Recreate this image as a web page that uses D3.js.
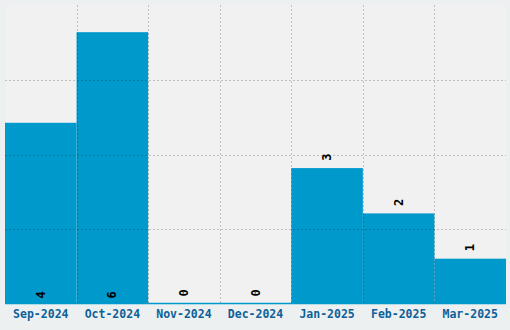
<!DOCTYPE html>
<html><head><meta charset="utf-8">
<script src="https://cdn.jsdelivr.net/npm/d3@7"></script>
<style>
html,body{margin:0;padding:0;background:#edf0f1;}
svg{display:block;}
</style></head>
<body>
<svg id="chart" width="510" height="330"></svg>
<script>
const categories = ["Sep-2024","Oct-2024","Nov-2024","Dec-2024","Jan-2025","Feb-2025","Mar-2025"];
const values = [4, 6, 0, 0, 3, 2, 1];
const yMax = 6.6;
const yTicks = [1.65, 3.3, 4.95];

const svg = d3.select("#chart");
const m = {left:5, top:5, right:4, bottom:26};
const W = 510, H = 330;
const iw = W - m.left - m.right, ih = H - m.top - m.bottom;

const x = d3.scaleBand().domain(categories).range([0, iw]).padding(0);
const y = d3.scaleLinear().domain([0, yMax]).range([ih, 0]);

const g = svg.append("g").attr("transform", `translate(${m.left},${m.top})`);
g.append("rect").attr("width", iw).attr("height", ih).attr("fill", "#f1f1f1");

g.selectAll("rect.bar").data(values).join("rect").attr("class","bar")
  .attr("x", (d,i) => x(categories[i]))
  .attr("width", x.bandwidth())
  .attr("y", d => y(d))
  .attr("height", d => ih - y(d))
  .attr("fill", "#0099cc");

// grid
const grid = g.append("g").attr("stroke", "rgba(0,0,0,0.2)").attr("stroke-dasharray", "2,2").attr("stroke-width", 1);
grid.selectAll("line.h").data(yTicks).join("line")
  .attr("x1", 0).attr("x2", iw)
  .attr("y1", d => Math.round(y(d)) + 0.5).attr("y2", d => Math.round(y(d)) + 0.5);
grid.selectAll("line.v").data(categories.slice(1)).join("line")
  .attr("y1", 0).attr("y2", ih)
  .attr("x1", d => Math.round(x(d)) + 0.5).attr("x2", d => Math.round(x(d)) + 0.5);

// baseline
g.append("line").attr("x1", 0).attr("x2", iw).attr("y1", ih - 0.5).attr("y2", ih - 0.5)
  .attr("stroke", "#0099cc").attr("stroke-width", 1.5);

// x axis labels
const xAxis = d3.axisBottom(x).tickSize(0).tickPadding(6);
const ax = g.append("g").attr("transform", `translate(0,${ih})`).call(xAxis);
ax.select(".domain").remove();
ax.selectAll("text")
  .attr("font-family", "'DejaVu Sans Mono', monospace")
  .attr("font-weight", "bold")
  .attr("font-size", "11.5px")
  .attr("fill", "#0d6199");

// value labels
g.selectAll("text.val").data(values).join("text").attr("class","val")
  .attr("transform", (d,i) => {
    const cx = x(categories[i]) + x.bandwidth()/2;
    const cy = d >= 4 ? ih - 9 : y(d) - 11;
    return `translate(${cx},${cy}) rotate(-90)`;
  })
  .attr("text-anchor", "middle")
  .attr("dominant-baseline", "central")
  .attr("font-family", "'DejaVu Sans Mono', monospace")
  .attr("font-weight", "bold")
  .attr("font-size", "12px")
  .attr("fill", "#000")
  .text(d => d);
</script>
</body></html>
